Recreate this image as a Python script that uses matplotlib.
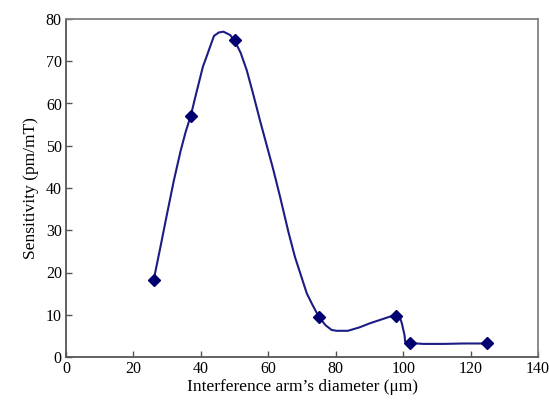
import matplotlib
matplotlib.use("Agg")
import matplotlib.pyplot as plt

# measured points (diamonds)
diam = [26, 37, 50, 75, 98, 102, 125]
sens = [18.2, 57.1, 75.0, 9.5, 9.6, 3.3, 3.2]

# smooth trend line
curve_x = [26, 28, 30, 32, 34, 35.5, 37, 38.5, 40.6, 41.7, 42.9, 43.9, 45.3, 46.7, 48.7, 50,
           51.8, 53.6, 55.5, 57.5, 61.5, 63.5, 66, 67.9, 71.4, 73, 75, 77, 78.8, 80.3, 83.6,
           87, 90.2, 94, 97, 98, 99.2, 99.6, 100.4, 100.6, 101.2, 102, 106, 112, 118, 125]
curve_y = [18.2, 26.0, 34.0, 41.8, 48.8, 53.3, 57.1, 62.0, 68.7, 71.1, 73.8, 76.0, 76.8, 77.0, 76.2, 74.9,
           72.0, 67.9, 62.3, 56.1, 44.3, 37.9, 29.5, 23.7, 15.1, 12.5, 9.5, 7.5, 6.4, 6.2, 6.2,
           7.0, 8.0, 9.0, 9.8, 9.6, 9.0, 8.0, 5.2, 3.6, 3.3, 3.3, 3.1, 3.1, 3.2, 3.2]

plt.rcParams["font.family"] = ["Liberation Serif", "DejaVu Serif"]

fig = plt.figure(figsize=(5.49, 4.0), dpi=100)
ax = fig.add_axes([0.1202, 0.1075, 0.8598, 0.845])

ax.plot(curve_x, curve_y, color="#1c1c84", lw=1.5)
ax.plot(diam, sens, linestyle="none", marker="D", markersize=6.5,
        color="#000070", markeredgecolor="#000070")

ax.set_xlim(0, 140)
ax.set_ylim(0, 80)
ax.set_xticks(range(0, 141, 20))
ax.set_yticks(range(0, 81, 10))
ax.tick_params(direction="in", length=4, width=1, color="#555555",
               labelsize=11.5, pad=3)

for side in ["top", "right"]:
    ax.spines[side].set_color("#808080")
    ax.spines[side].set_linewidth(1.3)
for side in ["left", "bottom"]:
    ax.spines[side].set_color("#555555")
    ax.spines[side].set_linewidth(1.3)

ax.set_xlabel("Interference arm\u2019s diameter (\u03bcm)", fontsize=12.5, labelpad=1)
ax.set_ylabel("Sensitivity (pm/mT)", fontsize=12.5, labelpad=5)

fig.savefig("out.png", dpi=100)
